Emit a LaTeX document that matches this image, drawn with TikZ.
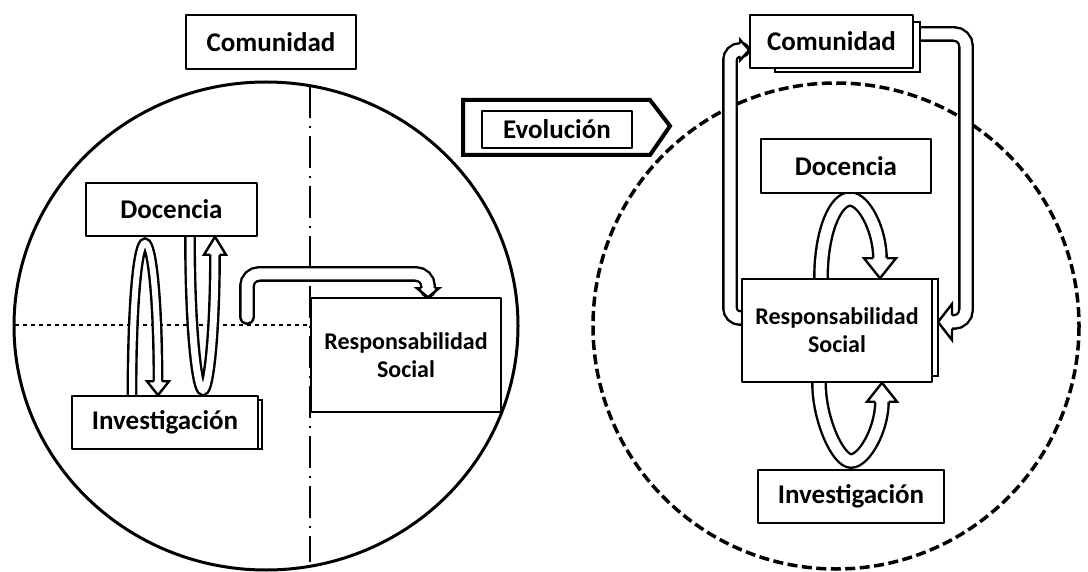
\documentclass[tikz,border=0pt]{standalone}
\usepackage{fontspec}
\setmainfont{Carlito}
\usetikzlibrary{calc,backgrounds}
\tikzset{
  every picture/.style={line width=1.5pt, line join=round},
  % Kästen
  box/.style={draw, fill=white, line width=1.5pt, inner sep=0pt, align=center,
    font=\bfseries\fontsize{27}{30}\selectfont},
  rsbox/.style={box, font=\bfseries\fontsize{24}{28}\selectfont},
  shadow/.style={draw, fill=white, line width=1.5pt},
  % Kreise und Achsen
  ring/.style={line width=3pt},
  dashring/.style={line width=3.5pt, dash pattern=on 10pt off 4.5pt},
  axdash/.style={line width=2pt, dash pattern=on 32pt off 8pt on 2pt off 8pt},
  axdot/.style={line width=2.5pt, dash pattern=on 4pt off 4pt},
  % Hohlpfeile: Band + Spitze
  hollow/.style={line width=2.4pt, double=white, double distance=#1, line cap=round},
  hollow/.default=10pt,
  pics/hhead/.style n args={3}{code={
    \filldraw[fill=white, line width=2.4pt, line join=miter] (-#1,#3) -- (-#1,#2) -- (0,0) -- (-#1,-#2) -- (-#1,-#3);}},
}
\begin{document}
\begin{tikzpicture}[x=1pt, y=-1pt]
  \useasboundingbox (0,0) rectangle (1088,572);
  % linke Seite
  \node[box, minimum width=170pt, minimum height=54pt] (com1) at (271,42) {Comunidad};
  \node[box, minimum width=171pt, minimum height=53pt] (doc1) at (171.5,209.5) {Docencia};
  \node[box, minimum width=186pt, minimum height=53pt] (inv1) at (165,422.5) {Investigación};
  \node[rsbox, minimum width=190pt, minimum height=114pt] (rs1) at (406,355) {Responsabilidad\\Social};
  % rechte Seite
  \node[box, minimum width=163pt, minimum height=53pt] (com2) at (831.5,41.5) {Comunidad};
  \node[box, minimum width=170pt, minimum height=54pt] (doc2) at (846,166) {Docencia};
  \node[rsbox, minimum width=190pt, minimum height=103pt] (rs2) at (837,330.5) {Responsabilidad\\Social};
  \node[box, minimum width=186pt, minimum height=53pt] (inv2) at (851,496.5) {Investigación};
  % Evolución
  \node[box, line width=1.2pt, minimum width=150pt, minimum height=37pt] (evo) at (557,129.5) {Evolución};
  \draw[line width=4pt, line join=miter] (463,100) -- (650,100) -- (670,126) -- (650,155) -- (463,155) -- cycle;

  \begin{scope}[on background layer]
    \draw[ring] (266,326) ellipse [x radius=252, y radius=244];
    \draw[dashring] (836,326) circle [radius=243];
    \draw[axdash] (310,86) -- (310,562);
    \draw[axdot] (15,325) -- (310,325);
    % Pfeile links
    \draw[hollow=6pt] (132,0 |- inv1.north) .. controls (132,300) and (138,243) .. (145,243)
      .. controls (152,243) and (158,300) .. (158,383);
    \pic[rotate=-90] at (158,0 |- inv1.north) {hhead={14}{11}{4.2}};
    \draw[hollow=7pt] (190,0 |- doc1.south) .. controls (190,330) and (197,390) .. (203,390)
      .. controls (209,390) and (215,330) .. (215,254);
    \pic[rotate=90] at (215,0 |- doc1.south) {hhead={18}{11}{4.7}};
    \draw[hollow=11pt, rounded corners=12pt] (247,317) -- (247,274) -- (428,274) -- (428,290);
    \pic[rotate=-90] at (428,0 |- rs1.north) {hhead={9}{11}{6.7}};
    % Pfeile rechts
    \draw[hollow=11pt, rounded corners=10pt] (750,318) -- (730,318) -- (730,50) -- (742,50);
    \pic at (com2.west |- 0,50) {hhead={9}{10}{6.7}};
    \draw[hollow=11pt, rounded corners=12pt] (915,34) -- (966,34) -- (966,322) -- (952,322);
    \pic[rotate=180] at (938,322) {hhead={14}{18}{6.7}};
    \draw[hollow=11pt] (821,0 |- rs2.north) .. controls (821,230) and (836,199) .. (850,199)
      .. controls (864,199) and (880,230) .. (880,259);
    \pic[rotate=-90] at (880,0 |- rs2.north) {hhead={20}{16}{6.7}};
    \draw[hollow=11pt] (819,0 |- rs2.south) .. controls (819,420) and (838,461) .. (851,461)
      .. controls (864,461) and (882,430) .. (882,401);
    \pic[rotate=90] at (882,0 |- rs2.south) {hhead={19}{15}{6.7}};
    % Schatten der Kästen
    \draw[shadow] (775,22) rectangle (920,72);
    \draw[shadow] (760,279) rectangle (938,376);
    \draw[shadow] (100,400) rectangle (262,449);
  \end{scope}
\end{tikzpicture}
\end{document}
